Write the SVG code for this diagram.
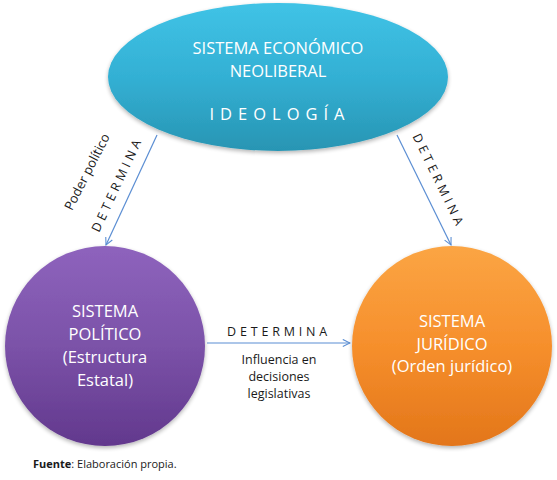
<svg xmlns="http://www.w3.org/2000/svg" width="557" height="480" viewBox="0 0 557 480">
<defs>
<linearGradient id="gTeal" x1="0" y1="0" x2="0" y2="1">
<stop offset="0" stop-color="#40c3e6"/><stop offset="0.5" stop-color="#33b0d4"/><stop offset="1" stop-color="#2895b3"/>
</linearGradient>
<linearGradient id="gPurple" x1="0" y1="0" x2="0" y2="1">
<stop offset="0" stop-color="#8e63bd"/><stop offset="0.5" stop-color="#7b52a8"/><stop offset="1" stop-color="#62388d"/>
</linearGradient>
<linearGradient id="gOrange" x1="0" y1="0" x2="0" y2="1">
<stop offset="0" stop-color="#fba544"/><stop offset="0.5" stop-color="#f68f2c"/><stop offset="1" stop-color="#e3761a"/>
</linearGradient>
<filter id="sh" x="-10%" y="-10%" width="120%" height="125%">
<feGaussianBlur in="SourceAlpha" stdDeviation="2"/>
<feOffset dy="2"/>
<feComponentTransfer><feFuncA type="linear" slope="0.3"/></feComponentTransfer>
<feMerge><feMergeNode/><feMergeNode in="SourceGraphic"/></feMerge>
</filter>
<marker id="arr" viewBox="0 0 10 10" refX="9" refY="5" markerWidth="9" markerHeight="9" markerUnits="userSpaceOnUse" orient="auto">
<path d="M1,1 L9,5 L1,9" fill="none" stroke="#5b8ed3" stroke-width="1.2"/>
</marker>
</defs>
<style>
.nt{font-family:"Open Sans","Liberation Sans",sans-serif;fill:#ffffff;text-anchor:middle;font-size:16.5px}
.lb{font-family:"Open Sans","Liberation Sans",sans-serif;fill:#1a1a1a;font-size:12.5px}
.sp{letter-spacing:3.8px}
.edge{stroke:#5b8ed3;stroke-width:1.2;fill:none;marker-end:url(#arr)}
</style>
<rect width="557" height="480" fill="#ffffff"/>
<g id="connectors">
<line class="edge" x1="157" y1="135" x2="106" y2="245"/>
<line class="edge" x1="397" y1="135" x2="451" y2="245"/>
<line class="edge" x1="207" y1="343" x2="350" y2="343"/>
<text class="lb sp" transform="translate(121,186) rotate(-65)" text-anchor="middle">DETERMINA</text>
<text class="lb" transform="translate(91,174) rotate(-63)" text-anchor="middle" style="font-size:13px">Poder político</text>
<text class="lb sp" transform="translate(435,183) rotate(64)" text-anchor="middle">DETERMINA</text>
<text class="lb sp" x="279" y="336" text-anchor="middle">DETERMINA</text>
<text class="lb" x="279" y="364" text-anchor="middle">Influencia en</text>
<text class="lb" x="279" y="381" text-anchor="middle">decisiones</text>
<text class="lb" x="279" y="398" text-anchor="middle">legislativas</text>
</g>
<g id="node-economico">
<ellipse cx="278" cy="77" rx="170" ry="74" fill="url(#gTeal)" filter="url(#sh)"/>
<text class="nt" x="278" y="54">SISTEMA ECONÓMICO</text>
<text class="nt" x="278" y="77">NEOLIBERAL</text>
<text class="nt" x="280" y="120" style="letter-spacing:6px">IDEOLOGÍA</text>
</g>
<g id="node-politico">
<circle cx="105" cy="346" r="100" fill="url(#gPurple)" filter="url(#sh)"/>
<text class="nt" x="105" y="317">SISTEMA</text>
<text class="nt" x="105" y="340">POLÍTICO</text>
<text class="nt" x="105" y="363">(Estructura</text>
<text class="nt" x="105" y="386">Estatal)</text>
</g>
<g id="node-juridico">
<circle cx="452" cy="346" r="100" fill="url(#gOrange)" filter="url(#sh)"/>
<text class="nt" x="452" y="327">SISTEMA</text>
<text class="nt" x="452" y="350">JURÍDICO</text>
<text class="nt" x="452" y="372">(Orden jurídico)</text>
</g>
<text x="33" y="468" font-family="'Open Sans','Liberation Sans',sans-serif" font-size="11" fill="#1a1a1a"><tspan font-weight="bold">Fuente</tspan>: Elaboración propia.</text>
</svg>
